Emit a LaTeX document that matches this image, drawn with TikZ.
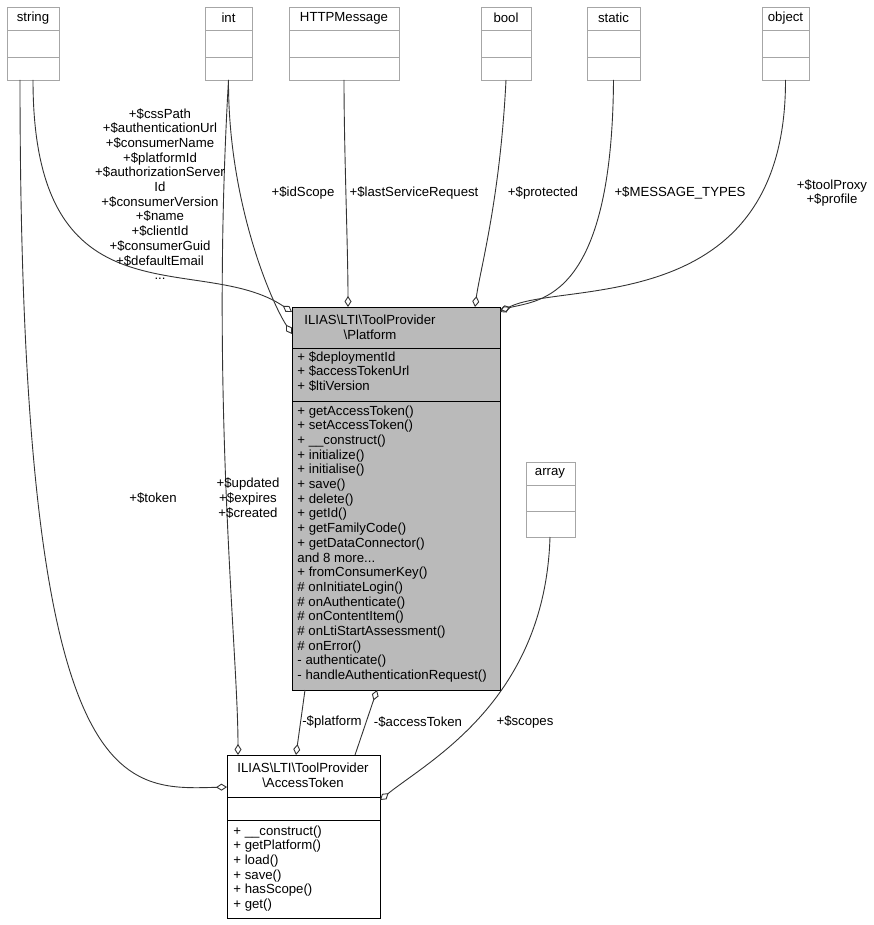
\documentclass[tikz,border=0pt]{standalone}
\usepackage{fontspec}
\setmainfont{Liberation Sans}
\usetikzlibrary{arrows.meta,calc}
\begin{document}
\begin{tikzpicture}[x=1pt,y=-1pt,line width=0.9pt,
 txt/.style={font=\fontsize{13.2}{14.7}\selectfont, inner sep=0pt},
 lbl/.style={txt,align=center},
 ebox/.style={draw=black!35, fill=white},
 edge/.style={draw=black!80, -{Diamond[open,length=11pt,width=7pt]}}]
\useasboundingbox (0,0) rectangle (874,925);
% empty type boxes
\foreach \n/\a/\b/\t in {string/7/59/string,int/205/252/int,http/289/399/HTTPMessage,bool/481/531/bool,static/587/640/static,object/762/809/object}{
  \draw[ebox] (\a,7) rectangle (\b,80);
  \draw[black!35] (\a,30) -- (\b,30) (\a,57) -- (\b,57);
  \node[txt] (\n) at ({(\a+\b)/2},18) {\t};
  \coordinate (\n-b) at ({(\a+\b)/2},80);
}
\draw[ebox] (526,462) rectangle (575,537);
\draw[black!35] (526,485) -- (575,485) (526,511) -- (575,511);
\node[txt] (array) at (550,473) {array};
\coordinate (array-b) at (550,537);
% Platform
\draw[fill=black!27] (292,307) rectangle (500,690);
\draw (292,348) -- (500,348) (292,401) -- (500,401);
\node[txt,align=center] (plat) at (370,327) {ILIAS\textbackslash LTI\textbackslash ToolProvider\\\textbackslash Platform};
\node[txt,align=left,anchor=north west] (pattr) at (297,351) {+ \$deploymentId\\+ \$accessTokenUrl\\+ \$ltiVersion};
\node[txt,align=left,anchor=north west] (pmeth) at (297,405) {+ getAccessToken()\\+ setAccessToken()\\+ \_\_construct()\\+ initialize()\\+ initialise()\\+ save()\\+ delete()\\+ getId()\\+ getFamilyCode()\\+ getDataConnector()\\and 8 more...\\+ fromConsumerKey()\\\# onInitiateLogin()\\\# onAuthenticate()\\\# onContentItem()\\\# onLtiStartAssessment()\\\# onError()\\- authenticate()\\- handleAuthenticationRequest()};
% AccessToken
\draw[fill=white] (227,755) rectangle (380,918);
\draw (227,797) -- (380,797) (227,820) -- (380,820);
\node[txt,align=center] (tok) at (303,775) {ILIAS\textbackslash LTI\textbackslash ToolProvider\\\textbackslash AccessToken};
\node[txt,align=left,anchor=north west] (tmeth) at (233,825) {+ \_\_construct()\\+ getPlatform()\\+ load()\\+ save()\\+ hasScope()\\+ get()};
% edges to Platform
\coordinate (p1) at (292,312);
\coordinate (p2) at (292,334);
\coordinate (p3) at (348,307);
\coordinate (p4) at (475,307);
\coordinate (p5) at (500,310);
\coordinate (p6) at (500,312);
\draw[edge] (string-b) .. controls (33,330) and (200,250) .. (p1);
\draw[edge] (int-b) .. controls (228,200) and (270,300) .. (p2);
\draw[edge] (http-b) .. controls (344,150) and (348,250) .. (p3);
\draw[edge] (bool-b) .. controls (500,200) and (480,270) .. (p4);
\draw[edge] (static-b) .. controls (612,300) and (540,300) .. (p5);
\draw[edge] (object-b) .. controls (786,320) and (560,280) .. (p6);
% edges to AccessToken
\coordinate (t1) at (227,787);
\coordinate (t2) at (238,755);
\coordinate (t3) at (296,755);
\coordinate (t4) at (377,690);
\coordinate (t5) at (380,800);
\draw[edge] ($(string-b)+(-13,0)$) .. controls (20,800) and (120,790) .. (t1);
\draw[edge] (int-b) .. controls (210,400) and (238,650) .. (t2);
\draw[edge] (305,690) -- (t3);
\draw[edge] (355,755) -- (t4);
\draw[edge] (array-b) .. controls (545,700) and (430,760) .. (t5);
% labels
\node[lbl] (l1) at (160,194) {+\$cssPath\\+\$authenticationUrl\\+\$consumerName\\+\$platformId\\+\$authorizationServer\\Id\\+\$consumerVersion\\+\$name\\+\$clientId\\+\$consumerGuid\\+\$defaultEmail\\...};
\node[lbl] (l2) at (303,193) {+\$idScope};
\node[lbl] (l3) at (414,193) {+\$lastServiceRequest};
\node[lbl] (l4) at (543,193) {+\$protected};
\node[lbl] (l5) at (680,193) {+\$MESSAGE\_TYPES};
\node[lbl] (l6) at (832,193) {+\$toolProxy\\+\$profile};
\node[lbl] (l7) at (153,498) {+\$token};
\node[lbl] (l8) at (248,498) {+\$updated\\+\$expires\\+\$created};
\node[lbl] (l9) at (332,722) {-\$platform};
\node[lbl] (l10) at (418,722) {-\$accessToken};
\node[lbl] (l11) at (525,722) {+\$scopes};
\end{tikzpicture}
\end{document}
